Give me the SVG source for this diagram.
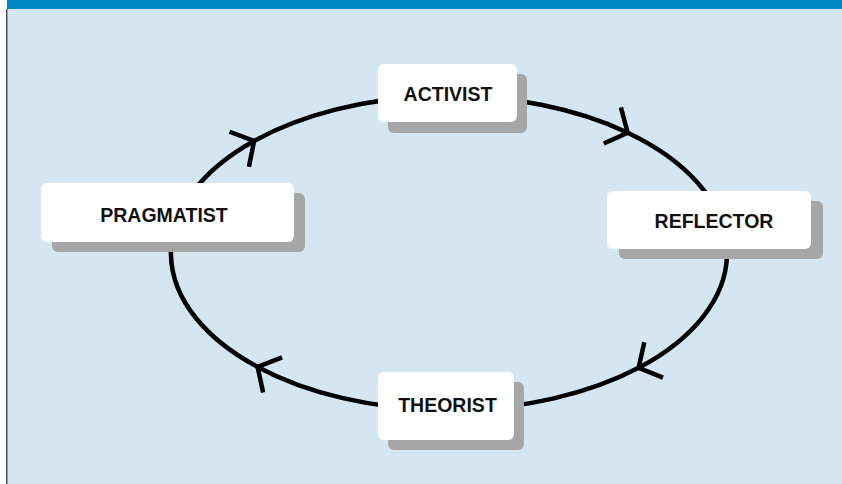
<svg xmlns="http://www.w3.org/2000/svg" width="842" height="484" viewBox="0 0 842 484">
  <style>
    .shadow { fill: #a6a6a6; }
    .box { fill: #ffffff; }
    .label { font-family: "Liberation Sans", Arial, sans-serif; font-weight: bold; font-size: 19.5px; fill: #111111; text-anchor: middle; }
    .conn { fill: none; stroke: #000000; stroke-width: 4.5; }
  </style>
  <defs>
    <marker id="chev" markerUnits="userSpaceOnUse" viewBox="-30 -30 60 60" markerWidth="60" markerHeight="60" refX="0" refY="0" orient="auto" overflow="visible">
      <path d="M -17,-20 L 0,0 L -17,20" fill="none" stroke="#000000" stroke-width="4.5" stroke-linecap="butt"/>
    </marker>
  </defs>
  <rect x="0" y="0" width="842" height="484" fill="#ffffff"/>
  <rect x="7" y="0" width="835" height="484" fill="#d4e6f2"/>
  <rect x="7" y="0" width="835" height="9" fill="#0088c2"/>
  <rect x="6" y="9" width="1.5" height="475" fill="#4d4d4d"/>

  <g id="connectors">
    <path class="conn" marker-end="url(#chev)" d="M 254.1,141.0 A 278 157 0 0 1 627.7,132.7"/>
    <path class="conn" marker-end="url(#chev)" d="M 627.7,132.7 A 278 157 0 0 1 638.6,367.8"/>
    <path class="conn" marker-end="url(#chev)" d="M 638.6,367.8 A 278 157 0 0 1 257.6,366.9"/>
    <path class="conn" marker-end="url(#chev)" d="M 257.6,366.9 A 278 157 0 0 1 254.1,141.0"/>
  </g>

  <g id="activist">
    <rect class="shadow" x="388" y="74" width="139" height="59" rx="6"/>
    <rect class="box" x="378" y="64" width="139" height="58" rx="6"/>
    <text class="label" x="448" y="101">ACTIVIST</text>
  </g>

  <g id="reflector">
    <rect class="shadow" x="619" y="201" width="204" height="58" rx="6"/>
    <rect class="box" x="607" y="191" width="204" height="58" rx="6"/>
    <text class="label" x="714" y="228">REFLECTOR</text>
  </g>

  <g id="theorist">
    <rect class="shadow" x="388" y="382" width="136" height="68" rx="6"/>
    <rect class="box" x="378" y="372" width="136" height="68" rx="6"/>
    <text class="label" x="447.5" y="412">THEORIST</text>
  </g>

  <g id="pragmatist">
    <rect class="shadow" x="52" y="193" width="253" height="59" rx="6"/>
    <rect class="box" x="41" y="183" width="253" height="59" rx="6"/>
    <text class="label" x="164" y="222">PRAGMATIST</text>
  </g>
</svg>
